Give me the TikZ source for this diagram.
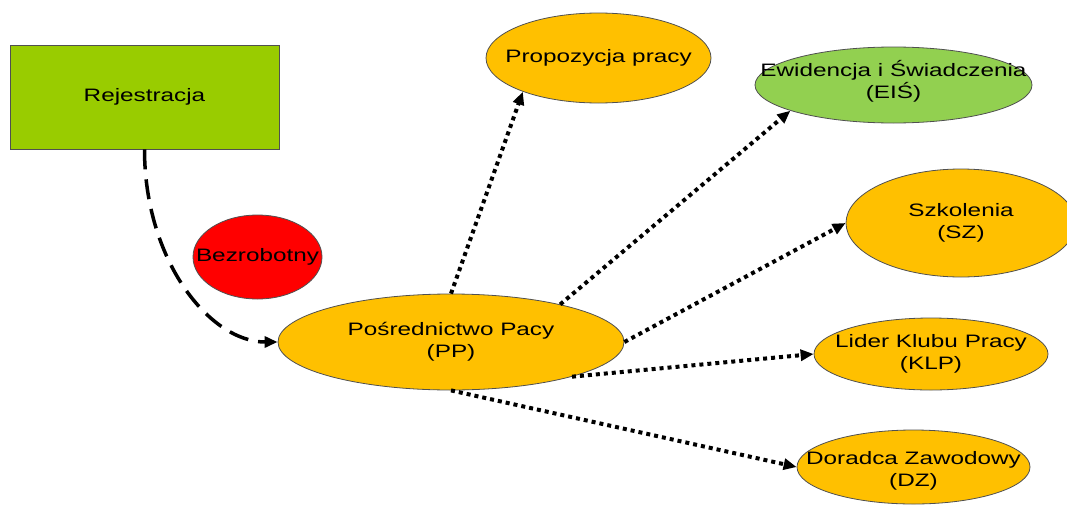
\documentclass[tikz,border=0pt]{standalone}
\usepackage{fontspec}
\setmainfont{Liberation Sans}[FakeStretch=1.35]
\usetikzlibrary{shapes.geometric,arrows.meta}
\definecolor{gold}{HTML}{FFC000}
\definecolor{lime}{HTML}{99CC00}
\definecolor{leaf}{HTML}{92D050}
\definecolor{outl}{HTML}{505050}
\begin{document}
\begin{tikzpicture}[x=1pt,y=-1pt,
  every node/.style={font=\fontsize{18}{22}\selectfont, align=center, inner sep=0pt},
  blob/.style={ellipse, draw=outl, line width=0.8pt},
  box/.style={rectangle, draw=outl, line width=0.8pt, fill=lime},
  dotarrow/.style={line width=4pt, dash pattern=on 4pt off 4pt, -{Triangle[length=13pt,width=11pt]}},
  dasharrow/.style={line width=3.5pt, dash pattern=on 20pt off 10pt, -{Triangle[length=13pt,width=11pt]}},
]
\useasboundingbox (0,0) rectangle (1067,506);
\node[box, minimum width=269pt, minimum height=104pt] (rej) at (144.5,97) {Rejestracja};
\node[blob, fill=red, minimum width=129pt, minimum height=84pt, label=center:{Bezrobotny}] (bez) at (257.5,257) {};
\node[blob, fill=gold, minimum width=346pt, minimum height=96pt, label=center:{Pośrednictwo Pacy\\(PP)}] (pp) at (451,342) {};
\node[blob, fill=gold, minimum width=225pt, minimum height=90pt, label=center:{Propozycja pracy}] (prop) at (598.5,58) {};
\node[blob, fill=leaf, minimum width=277pt, minimum height=76pt, label={[yshift=4pt]center:{Ewidencja i Świadczenia\\(EIŚ)}}] (eis) at (893.5,85) {};
\node[blob, fill=gold, minimum width=230pt, minimum height=108pt, label=center:{Szkolenia\\(SZ)}] (szk) at (961,223) {};
\node[blob, fill=gold, minimum width=234pt, minimum height=72pt, label=center:{Lider Klubu Pracy\\(KLP)}] (klp) at (931,354) {};
\node[blob, fill=gold, minimum width=233pt, minimum height=74pt, label={[yshift=-4pt]center:{Doradca Zawodowy\\(DZ)}}] (dz) at (913.5,467) {};

\draw[dasharrow] (rej.south) .. controls +(0,111) and +(-68,0) .. (pp.west);
\draw[dotarrow] (pp.north) -- (prop.204);
\draw[dotarrow] (pp.19) -- (eis.194);
\draw[dotarrow] (pp.east) -- (szk.west);
\draw[dotarrow] (pp.-16) -- (klp.west);
\draw[dotarrow] (pp.south) -- (dz.west);
\end{tikzpicture}
\end{document}
